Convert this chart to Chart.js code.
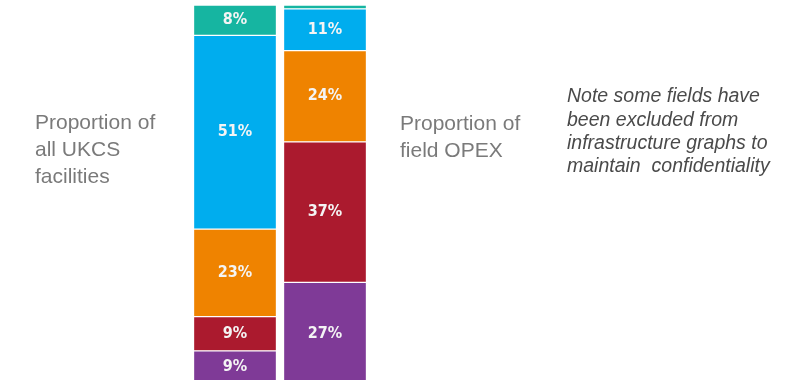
<!DOCTYPE html>
<html>
<head>
<meta charset="utf-8">
<script src="https://cdn.jsdelivr.net/npm/chart.js@4.4.0/dist/chart.umd.min.js"></script>
<style>
  html, body { margin: 0; padding: 0; background: #fff; overflow: hidden; }
  #wrap { position: relative; width: 801px; height: 385px; }
</style>
</head>
<body>
<div id="wrap"><canvas id="myChart"></canvas></div>
<script>
// two stacked columns, values in percent
var categories = ["Proportion of all UKCS facilities", "Proportion of field OPEX"];
var seriesNames = ["Purple", "Red", "Orange", "Blue", "Teal"];
var purpleVals = [9, 27];
var redVals = [9, 37];
var orangeVals = [23, 24];
var blueVals = [51, 11];
var tealVals = [8, 1];

var colors = ["#7f3a97", "#ab1a2e", "#ef8300", "#00adee", "#16b5a1"];
var allVals = [purpleVals, redVals, orangeVals, blueVals, tealVals];

// side texts
var leftLabel = ["Proportion of", "all UKCS", "facilities"];
var rightLabel = ["Proportion of", "field OPEX"];
var noteLines = ["Note some fields have", "been excluded from", "infrastructure graphs to", "maintain  confidentiality"];

const datasets = [];
for (let i = 0; i < seriesNames.length; i++) {
  datasets.push({
    label: seriesNames[i],
    data: allVals[i],
    backgroundColor: colors[i],
    borderColor: "rgba(255,255,255,0.55)",
    borderWidth: 1,
    borderSkipped: false,
    barThickness: 83,
  });
}

// white percent labels inside bars + the side texts
const labelPlugin = {
  id: "labelPlugin",
  afterDatasetsDraw(chart) {
    const ctx = chart.ctx;
    ctx.save();
    ctx.fillStyle = "#f4f4f4";
    ctx.font = "bold 16px 'DejaVu Sans Condensed', 'DejaVu Sans', sans-serif";
    ctx.textAlign = "center";
    ctx.textBaseline = "middle";
    chart.data.datasets.forEach((ds, i) => {
      const meta = chart.getDatasetMeta(i);
      meta.data.forEach((bar, j) => {
        const v = ds.data[j];
        if (v < 5) return;
        const mid = (bar.y + bar.base) / 2;
        // bottom segment is cut by the canvas edge
        let y = mid;
        if (i == 0 && j == 0) y = 367;
        ctx.fillText(v + "%", bar.x, y);
      });
    });

    ctx.fillStyle = "#7a7a7a";
    ctx.font = "21px 'Liberation Sans', Arial, sans-serif";
    ctx.textAlign = "left";
    leftLabel.forEach((t, k) => ctx.fillText(t, 35, 123 + k * 27));
    rightLabel.forEach((t, k) => ctx.fillText(t, 400, 124 + k * 27));

    ctx.fillStyle = "#4a4a4a";
    ctx.font = "italic 19.5px 'Liberation Sans', Arial, sans-serif";
    noteLines.forEach((t, k) => ctx.fillText(t, 567, 97 + k * 23.3));
    ctx.restore();
  },
};

const config = {
  type: "bar",
  data: { labels: categories, datasets: datasets },
  options: {
    responsive: true,
    maintainAspectRatio: false,
    animation: false,
    layout: { padding: { left: 190, right: 431, top: 5, bottom: 0 } },
    plugins: { legend: { display: false }, tooltip: { enabled: false } },
    scales: {
      x: { stacked: true, display: false },
      y: { stacked: true, display: false, min: 0, max: 100 },
    },
  },
  plugins: [labelPlugin],
};

new Chart(document.getElementById("myChart"), config);
</script>
</body>
</html>
